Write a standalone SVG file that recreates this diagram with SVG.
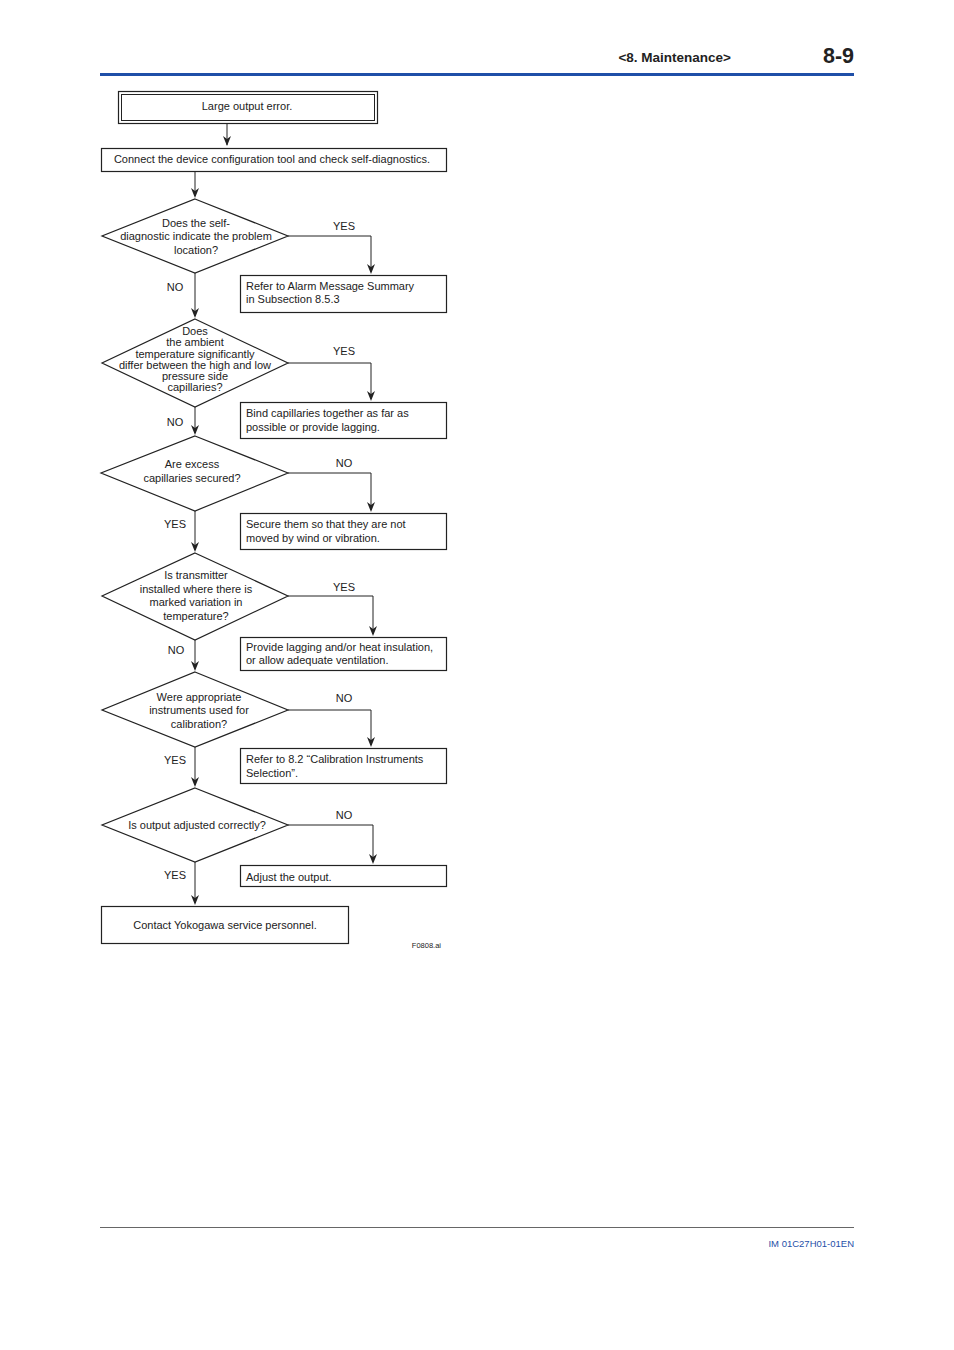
<svg xmlns="http://www.w3.org/2000/svg" width="954" height="1350" viewBox="0 0 954 1350">
<defs>
<style>
text{font-family:"Liberation Sans",Arial,sans-serif;font-size:11px;fill:#222}
.c{text-anchor:middle}
.b{fill:#fff;stroke:#222;stroke-width:1.2}
.l{fill:none;stroke:#222;stroke-width:1}
</style>
</defs>
<rect width="954" height="1350" fill="#fff"/>
<text x="731" y="62" text-anchor="end" style="font-size:13.5px;font-weight:bold">&lt;8.  Maintenance&gt;</text>
<text x="854" y="63" text-anchor="end" style="font-size:21.5px;font-weight:bold">8-9</text>
<rect x="100" y="73" width="754" height="3" fill="#1f4fa8"/>
<line x1="100" y1="1227.5" x2="854" y2="1227.5" stroke="#666" stroke-width="1"/>
<text x="854" y="1247" text-anchor="end" style="font-size:9.5px;fill:#1f4fa8">IM 01C27H01-01EN</text>

<g id="connectors">
<path class="l" d="M227,123 V145"/>
<path class="l" d="M195,171 V196"/>
<path class="l" d="M288,236 H371 V272"/>
<path class="l" d="M195,273 V316"/>
<path class="l" d="M288,363 H371 V399"/>
<path class="l" d="M195,407 V433"/>
<path class="l" d="M288,473 H371 V510"/>
<path class="l" d="M195,511 V550"/>
<path class="l" d="M288,596 H373 V634"/>
<path class="l" d="M195,640 V669"/>
<path class="l" d="M288,710 H371 V745"/>
<path class="l" d="M195,747 V785"/>
<path class="l" d="M288,825 H373 V862"/>
<path class="l" d="M195,862 V903"/>
<g fill="#222">
<path d="M223,136 L227,146 L231,136 L227,139Z"/>
<path d="M191,188 L195,198 L199,188 L195,191Z"/>
<path d="M367,264 L371,274 L375,264 L371,267Z"/>
<path d="M191,308 L195,318 L199,308 L195,311Z"/>
<path d="M367,391 L371,401 L375,391 L371,394Z"/>
<path d="M191,425 L195,435 L199,425 L195,428Z"/>
<path d="M367,502 L371,512 L375,502 L371,505Z"/>
<path d="M191,542 L195,552 L199,542 L195,545Z"/>
<path d="M369,626 L373,636 L377,626 L373,629Z"/>
<path d="M191,661 L195,671 L199,661 L195,664Z"/>
<path d="M367,737 L371,747 L375,737 L371,740Z"/>
<path d="M191,777 L195,787 L199,777 L195,780Z"/>
<path d="M369,854 L373,864 L377,854 L373,857Z"/>
<path d="M191,895 L195,905 L199,895 L195,898Z"/>
</g>
<text x="344" y="230" class="c">YES</text>
<text x="175" y="291" class="c">NO</text>
<text x="344" y="355" class="c">YES</text>
<text x="175" y="426" class="c">NO</text>
<text x="344" y="467" class="c">NO</text>
<text x="175" y="528" class="c">YES</text>
<text x="344" y="591" class="c">YES</text>
<text x="176" y="654" class="c">NO</text>
<text x="344" y="702" class="c">NO</text>
<text x="175" y="764" class="c">YES</text>
<text x="344" y="819" class="c">NO</text>
<text x="175" y="879" class="c">YES</text>
</g>

<g id="start">
<rect class="b" x="118.5" y="91.5" width="259" height="32"/>
<rect class="l" x="121.5" y="94.5" width="253" height="26"/>
<text x="247" y="110" class="c">Large output error.</text>
</g>
<g id="connect">
<rect class="b" x="101.5" y="148.5" width="345" height="23"/>
<text x="272" y="163" class="c">Connect the device configuration tool and check self-diagnostics.</text>
</g>
<g id="d1">
<polygon class="b" points="195,199 288,236 195,273 102,236"/>
<text class="c"><tspan x="196" y="227">Does the self-</tspan><tspan x="196" y="240">diagnostic indicate the problem</tspan><tspan x="196" y="254">location?</tspan></text>
</g>
<g id="b1">
<rect class="b" x="240.5" y="275.5" width="206" height="37"/>
<text><tspan x="246" y="290">Refer to Alarm Message Summary</tspan><tspan x="246" y="303">in Subsection 8.5.3</tspan></text>
</g>
<g id="d2">
<polygon class="b" points="195,319 288,363 195,407 102,363"/>
<text class="c"><tspan x="195" y="335">Does</tspan><tspan x="195" y="346">the ambient</tspan><tspan x="195" y="358">temperature significantly</tspan><tspan x="195" y="369">differ between the high and low</tspan><tspan x="195" y="380">pressure side</tspan><tspan x="195" y="391">capillaries?</tspan></text>
</g>
<g id="b2">
<rect class="b" x="240.5" y="402.5" width="206" height="36"/>
<text><tspan x="246" y="417">Bind capillaries together as far as</tspan><tspan x="246" y="431">possible or provide lagging.</tspan></text>
</g>
<g id="d3">
<polygon class="b" points="195,436 288,473 195,511 101,473"/>
<text class="c"><tspan x="192" y="468">Are excess</tspan><tspan x="192" y="482">capillaries secured?</tspan></text>
</g>
<g id="b3">
<rect class="b" x="240.5" y="513.5" width="206" height="36"/>
<text><tspan x="246" y="528">Secure them so that they are not</tspan><tspan x="246" y="542">moved by wind or vibration.</tspan></text>
</g>
<g id="d4">
<polygon class="b" points="195,553 288,596 195,640 102,596"/>
<text class="c"><tspan x="196" y="579">Is transmitter</tspan><tspan x="196" y="593">installed where there is</tspan><tspan x="196" y="606">marked variation in</tspan><tspan x="196" y="620">temperature?</tspan></text>
</g>
<g id="b4">
<rect class="b" x="240.5" y="637.5" width="206" height="33"/>
<text><tspan x="246" y="651">Provide lagging and/or heat insulation,</tspan><tspan x="246" y="664">or allow adequate ventilation.</tspan></text>
</g>
<g id="d5">
<polygon class="b" points="195,672 288,710 195,747 102,710"/>
<text class="c"><tspan x="199" y="701">Were appropriate</tspan><tspan x="199" y="714">instruments used for</tspan><tspan x="199" y="728">calibration?</tspan></text>
</g>
<g id="b5">
<rect class="b" x="240.5" y="748.5" width="206" height="35"/>
<text><tspan x="246" y="763">Refer to 8.2 “Calibration Instruments</tspan><tspan x="246" y="777">Selection”.</tspan></text>
</g>
<g id="d6">
<polygon class="b" points="195,788 288,825 195,862 102,825"/>
<text x="197" y="829" class="c">Is output adjusted correctly?</text>
</g>
<g id="b6">
<rect class="b" x="240.5" y="865.5" width="206" height="21"/>
<text x="246" y="881">Adjust the output.</text>
</g>
<g id="end">
<rect class="b" x="101.5" y="906.5" width="247" height="37"/>
<text x="225" y="929" class="c">Contact Yokogawa service personnel.</text>
</g>
<text x="441" y="948" text-anchor="end" style="font-size:7.5px">F0808.ai</text>
</svg>
